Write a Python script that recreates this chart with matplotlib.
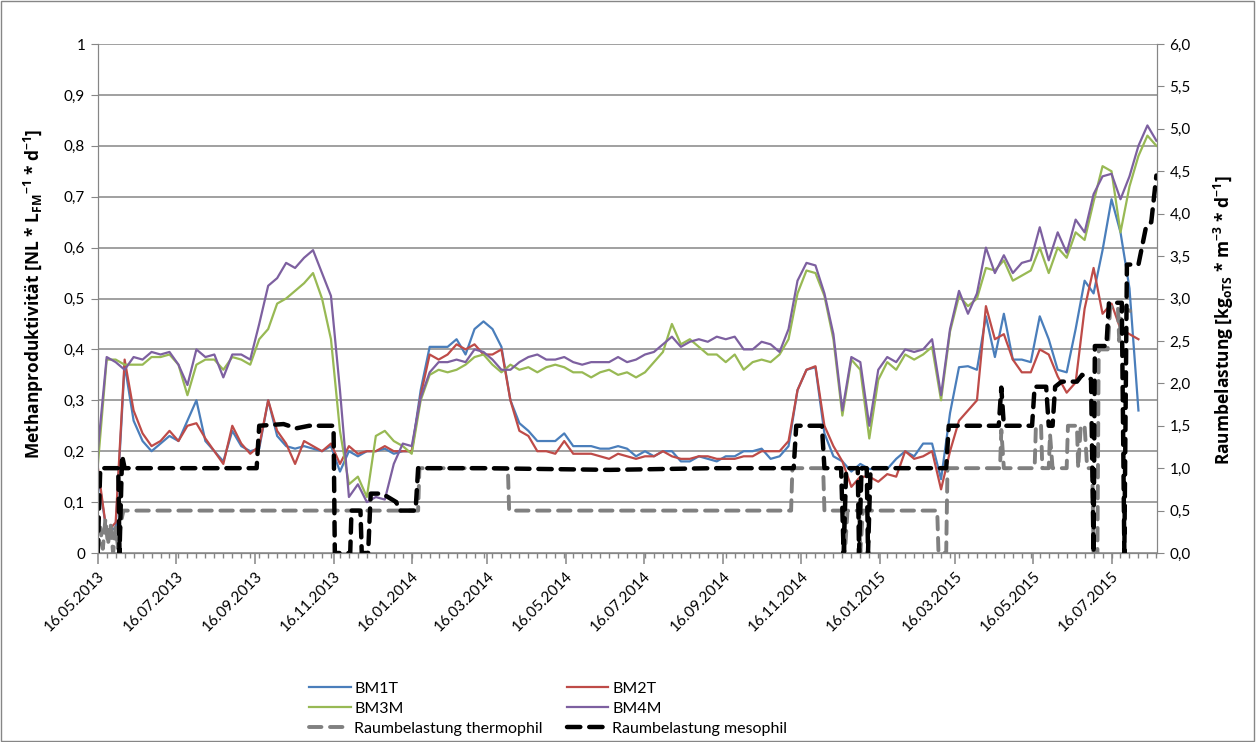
import numpy as np
import matplotlib
matplotlib.use('Agg')
import matplotlib.pyplot as plt
import matplotlib.dates as mdates
import matplotlib.transforms as mtransforms
from matplotlib.ticker import FixedLocator, FuncFormatter
from matplotlib.patches import Rectangle

plt.rcParams['font.family'] = ['Lato', 'DejaVu Sans']
plt.rcParams['mathtext.fontset'] = 'custom'
plt.rcParams['mathtext.rm'] = 'Open Sans:bold'
plt.rcParams['mathtext.bf'] = 'Open Sans:bold'
plt.rcParams['mathtext.default'] = 'bf'

start = np.datetime64('2013-05-16')

# Methanproduktivitaet, weekly readings (day offsets 0, 7, 14, ... from 16.05.2013)
week_days = list(range(0, 827, 7))
bm1t = [0.16, 0.04, 0.05, 0.37, 0.26, 0.22, 0.20, 0.215, 0.23, 0.22,
        0.26, 0.30, 0.22, 0.20, 0.18, 0.24, 0.21, 0.20, 0.205, 0.30,
        0.23, 0.21, 0.205, 0.21, 0.205, 0.20, 0.21, 0.16, 0.20, 0.19,
        0.20, 0.20, 0.205, 0.195, 0.20, 0.20, 0.32, 0.405, 0.405, 0.405,
        0.42, 0.39, 0.44, 0.455, 0.44, 0.405, 0.30, 0.255, 0.24, 0.22,
        0.22, 0.22, 0.235, 0.21, 0.21, 0.21, 0.205, 0.205, 0.21, 0.205,
        0.19, 0.20, 0.19, 0.20, 0.20, 0.18, 0.18, 0.19, 0.185, 0.18,
        0.19, 0.19, 0.20, 0.20, 0.205, 0.185, 0.19, 0.21, 0.32, 0.36,
        0.365, 0.235, 0.19, 0.18, 0.16, 0.175, 0.165, 0.165, 0.165, 0.185,
        0.20, 0.19, 0.215, 0.215, 0.145, 0.275, 0.365, 0.367, 0.36, 0.465,
        0.385, 0.47, 0.38, 0.38, 0.375, 0.465, 0.42, 0.36, 0.355, 0.44,
        0.535, 0.51, 0.595, 0.695, 0.63, 0.52, 0.28, np.nan, np.nan]
bm2t = [0.17, 0.04, 0.06, 0.38, 0.28, 0.235, 0.21, 0.22, 0.24, 0.22,
        0.25, 0.255, 0.225, 0.20, 0.175, 0.25, 0.215, 0.195, 0.21, 0.30,
        0.24, 0.215, 0.175, 0.22, 0.21, 0.20, 0.215, 0.175, 0.21, 0.195,
        0.20, 0.20, 0.21, 0.20, 0.20, 0.20, 0.31, 0.39, 0.38, 0.39,
        0.41, 0.40, 0.41, 0.39, 0.39, 0.40, 0.30, 0.24, 0.23, 0.20,
        0.20, 0.195, 0.22, 0.195, 0.195, 0.195, 0.19, 0.185, 0.195, 0.19,
        0.185, 0.19, 0.19, 0.20, 0.19, 0.185, 0.185, 0.19, 0.19, 0.185,
        0.185, 0.185, 0.19, 0.19, 0.20, 0.20, 0.20, 0.22, 0.32, 0.36,
        0.367, 0.25, 0.21, 0.18, 0.13, 0.15, 0.15, 0.14, 0.155, 0.15,
        0.20, 0.185, 0.19, 0.20, 0.125, 0.20, 0.26, 0.28, 0.30, 0.485,
        0.42, 0.43, 0.38, 0.355, 0.355, 0.40, 0.39, 0.347, 0.315, 0.335,
        0.48, 0.56, 0.47, 0.49, 0.44, 0.43, 0.42, np.nan, np.nan]
bm3m = [0.17, 0.38, 0.38, 0.37, 0.37, 0.37, 0.385, 0.385, 0.39, 0.37,
        0.31, 0.37, 0.38, 0.38, 0.36, 0.385, 0.38, 0.37, 0.42, 0.44,
        0.49, 0.50, 0.515, 0.53, 0.55, 0.50, 0.42, 0.24, 0.135, 0.15,
        0.11, 0.23, 0.24, 0.22, 0.21, 0.195, 0.30, 0.35, 0.36, 0.355,
        0.36, 0.37, 0.385, 0.39, 0.37, 0.355, 0.37, 0.36, 0.365, 0.355,
        0.365, 0.37, 0.365, 0.355, 0.355, 0.345, 0.355, 0.36, 0.35, 0.355,
        0.345, 0.355, 0.375, 0.395, 0.45, 0.41, 0.42, 0.405, 0.39, 0.39,
        0.375, 0.39, 0.36, 0.375, 0.38, 0.375, 0.39, 0.42, 0.51, 0.555,
        0.55, 0.505, 0.42, 0.27, 0.38, 0.36, 0.225, 0.34, 0.375, 0.36,
        0.39, 0.38, 0.39, 0.405, 0.30, 0.435, 0.505, 0.485, 0.50, 0.56,
        0.555, 0.575, 0.535, 0.545, 0.555, 0.60, 0.55, 0.60, 0.58, 0.63,
        0.615, 0.69, 0.76, 0.75, 0.63, 0.72, 0.78, 0.82, 0.80]
bm4m = [0.20, 0.385, 0.375, 0.36, 0.385, 0.38, 0.395, 0.39, 0.395, 0.37,
        0.33, 0.40, 0.385, 0.39, 0.345, 0.39, 0.39, 0.38, 0.45, 0.525,
        0.54, 0.57, 0.56, 0.58, 0.595, 0.55, 0.505, 0.32, 0.11, 0.135,
        0.10, 0.11, 0.105, 0.175, 0.215, 0.21, 0.305, 0.355, 0.375, 0.375,
        0.38, 0.375, 0.40, 0.395, 0.38, 0.36, 0.36, 0.375, 0.385, 0.39,
        0.38, 0.38, 0.385, 0.375, 0.37, 0.375, 0.375, 0.375, 0.385, 0.375,
        0.38, 0.39, 0.395, 0.41, 0.425, 0.405, 0.415, 0.42, 0.415, 0.425,
        0.42, 0.425, 0.40, 0.40, 0.415, 0.41, 0.395, 0.44, 0.535, 0.57,
        0.565, 0.51, 0.43, 0.28, 0.385, 0.375, 0.25, 0.36, 0.385, 0.375,
        0.40, 0.395, 0.40, 0.42, 0.31, 0.44, 0.515, 0.47, 0.51, 0.60,
        0.55, 0.585, 0.55, 0.57, 0.575, 0.64, 0.575, 0.63, 0.59, 0.655,
        0.63, 0.705, 0.74, 0.745, 0.695, 0.74, 0.80, 0.84, 0.81]

# Raumbelastung (right axis), day offsets and values
thermo_days = [0, 2, 4, 6, 8, 10, 12, 14, 16, 18, 20, 250, 251, 320, 321,
               541, 542, 566, 567, 582, 583, 585, 594, 595, 597, 655, 656,
               662, 663, 704, 705, 707, 731, 732, 736, 737, 742, 743, 745,
               756, 757, 764, 765, 767, 770, 772, 776, 777, 780, 781, 788,
               790, 796, 797, 799, 806]
thermo_vals = [0.0, 0.3, 0.05, 0.4, 0.1, 0.35, 0.0, 0.3, 0.05, 0.35, 0.5, 0.5, 1.0, 1.0, 0.5,
               0.5, 1.0, 1.0, 0.5, 0.5, 0.0, 0.5, 0.5, 0.0, 0.5, 0.5, 0.0,
               0.0, 1.0, 1.0, 1.45, 1.0, 1.0, 1.5, 1.5, 1.0, 1.0, 1.4, 1.0,
               1.0, 1.5, 1.5, 1.0, 1.5, 1.5, 1.0, 1.0, 0.0, 0.0, 2.4, 2.4,
               2.9, 2.9, 2.5, 2.9, 2.85]
meso_days = [0, 2, 16, 17, 19, 21, 124, 126, 145, 155, 165, 184, 185, 197,
             198, 205, 206, 211, 213, 222, 233, 235, 248, 250, 300, 400, 480,
             543, 545, 565, 567, 580, 582, 584, 593, 594, 596, 600, 601, 603,
             662, 664, 703, 705, 707, 729, 731, 740, 742, 745, 747, 752, 764,
             768, 775, 777, 778, 787, 789, 799, 801, 803, 812, 818, 822, 826]
meso_vals = [0.0, 1.0, 1.0, 0.0, 1.15, 1.0, 1.0, 1.5, 1.52, 1.47, 1.5, 1.5, 0.0, 0.0,
             0.5, 0.5, 0.0, 0.0, 0.7, 0.7, 0.6, 0.5, 0.5, 1.0, 1.0, 0.98, 1.0,
             1.0, 1.5, 1.5, 1.0, 1.0, 0.0, 1.0, 1.0, 0.0, 1.0, 1.0, 0.0, 1.0,
             1.0, 1.5, 1.5, 1.95, 1.5, 1.5, 1.96, 1.96, 1.5, 1.5, 1.96, 2.02, 2.02,
             2.1, 2.05, 0.0, 2.44, 2.44, 2.95, 2.95, 0.0, 3.4, 3.4, 3.85, 3.9, 4.45]


def to_dates(days):
    return start + np.array(days).astype('timedelta64[D]')


fig = plt.figure(figsize=(12.56, 7.42), dpi=100)
ax = fig.add_axes([0.0778, 0.2547, 0.9212 - 0.0778, 0.9407 - 0.2547])

grid_col = '#868686'
wd = to_dates(week_days)
ax.plot(wd, bm1t, color='#4A7EBB', lw=1.6, label='BM1T')
ax.plot(wd, bm2t, color='#BE4B48', lw=1.6, label='BM2T')
ax.plot(wd, bm3m, color='#98B954', lw=1.6, label='BM3M')
ax.plot(wd, bm4m, color='#7D60A0', lw=1.6, label='BM4M')

# axes ranges and date ticks
x0 = mdates.date2num(start)
ax.set_xlim(x0, x0 + 826.5)
ax.set_ylim(0, 1)
ax.xaxis.set_major_locator(mdates.MonthLocator(bymonth=[1, 3, 5, 7, 9, 11], bymonthday=16))
ax.xaxis.set_major_formatter(mdates.DateFormatter('%d.%m.%Y'))

# weekly minor tick marks below the date axis
minor_x = x0 + np.arange(7, 827, 7)
tick_tr = mtransforms.blended_transform_factory(ax.transData, ax.transAxes)
ax.vlines(minor_x, -0.0095, 0, transform=tick_tr, colors=grid_col, lw=1.0, clip_on=False)

ax2 = ax.twinx()
ax2.plot(to_dates(thermo_days), thermo_vals, color='#808080', lw=2.8,
         dashes=(3.2, 2.2), dash_capstyle='round', label='Raumbelastung thermophil')
ax2.plot(to_dates(meso_days), meso_vals, color='black', lw=3.2,
         dashes=(3.0, 2.0), dash_capstyle='round', label='Raumbelastung mesophil')
ax2.set_ylim(0, 6)
ax.set_xlim(x0, x0 + 826.5)

comma = lambda v, p: ('%.1f' % v).replace('.', ',')
ax.yaxis.set_major_locator(FixedLocator(np.arange(0, 1.01, 0.1)))
ax.yaxis.set_major_formatter(FuncFormatter(
    lambda v, p: '0' if abs(v) < 1e-9 else ('1' if abs(v - 1) < 1e-9 else comma(v, p))))
ax2.yaxis.set_major_locator(FixedLocator(np.arange(0, 6.01, 0.5)))
ax2.yaxis.set_major_formatter(FuncFormatter(comma))

ax.grid(axis='y', color=grid_col, lw=1.1)
ax.set_axisbelow(True)

for a in (ax, ax2):
    for s in a.spines.values():
        s.set_color(grid_col)
    a.spines['top'].set_visible(False)
    a.tick_params(colors=grid_col, labelcolor='black', labelsize=11)
ax.tick_params(axis='x', which='major', length=8, width=1.1, direction='out')
ax.tick_params(axis='y', length=5, pad=4)
ax2.tick_params(axis='y', length=5, pad=4)
for lab in ax.get_xticklabels():
    lab.set_rotation(45)
    lab.set_ha('right')
    lab.set_rotation_mode('anchor')

ax.set_ylabel(r'Methanproduktivität [NL * L$_{\mathbf{FM}}$$^{\mathbf{-1}}$ * d$^{\mathbf{-1}}$]',
              fontsize=12.5, fontweight='bold', family=['Open Sans', 'DejaVu Sans'])
ax.yaxis.set_label_coords(-0.049, 0.51)
ax2.set_ylabel(r'Raumbelastung [kg$_{\mathbf{oTS}}$ * m$^{\mathbf{-3}}$ * d$^{\mathbf{-1}}$]',
               fontsize=12.5, fontweight='bold', family=['Open Sans', 'DejaVu Sans'])
ax2.yaxis.set_label_coords(1.052, 0.458)

h1, l1 = ax.get_legend_handles_labels()
h2, l2 = ax2.get_legend_handles_labels()
handles = [h1[0], h1[2], h2[0], h1[1], h1[3], h2[1]]
labels = [l1[0], l1[2], l2[0], l1[1], l1[3], l2[1]]
fig.legend(handles, labels, loc='upper left', bbox_to_anchor=(0.246, 0.081),
           ncol=2, frameon=False, fontsize=11.5, handlelength=2.6,
           labelspacing=0.36, columnspacing=1.5, handletextpad=0.25,
           borderaxespad=0, borderpad=0)

fig.patches.append(Rectangle((0.0005, 0.001), 0.998, 0.998, transform=fig.transFigure,
                             fill=False, edgecolor=grid_col, lw=1))

fig.savefig('out.png', dpi=100)
